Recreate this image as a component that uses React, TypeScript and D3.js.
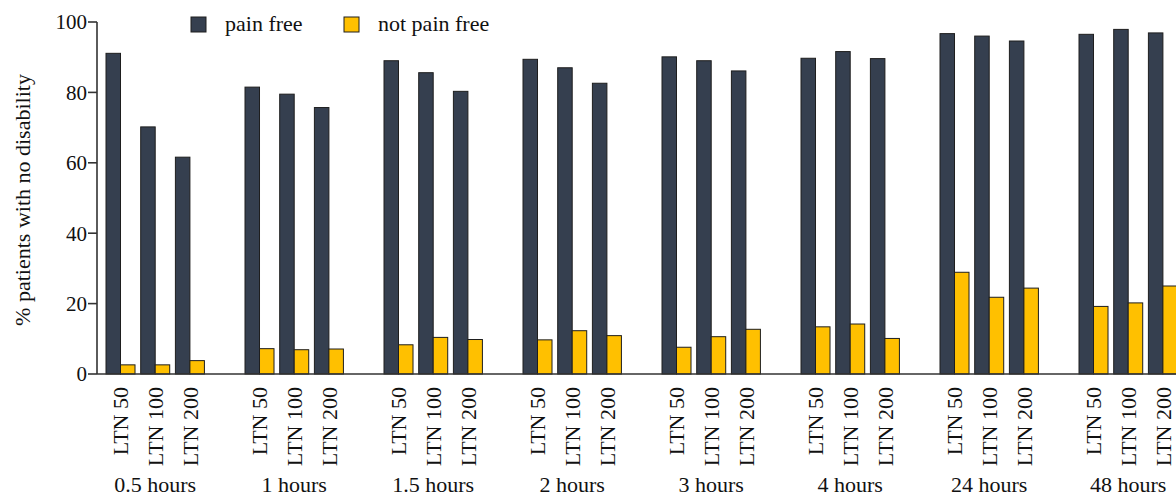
import React from "react";
import * as d3 from "d3";

const timepoints = ["0.5 hours", "1 hours", "1.5 hours", "2 hours", "3 hours", "4 hours", "24 hours", "48 hours"];
const doses = ["LTN 50", "LTN 100", "LTN 200"];
const seriesNames = ["pain free", "not pain free"];
const seriesColors = ["#353f4f", "#ffc000"];
const painFree = [
  [91.1, 70.2, 61.6],
  [81.5, 79.5, 75.7],
  [89.0, 85.6, 80.3],
  [89.4, 87.0, 82.6],
  [90.1, 89.0, 86.1],
  [89.7, 91.6, 89.6],
  [96.7, 96.0, 94.6],
  [96.5, 97.9, 96.9],
];
const notPainFree = [
  [2.6, 2.6, 3.8],
  [7.2, 6.9, 7.1],
  [8.3, 10.4, 9.8],
  [9.7, 12.3, 10.9],
  [7.6, 10.6, 12.7],
  [13.4, 14.2, 10.1],
  [28.9, 21.8, 24.4],
  [19.2, 20.2, 25.0],
];
const yTicks = [0, 20, 40, 60, 80, 100];

const W = 1176;
const H = 497;
const FONT = "Liberation Serif, Tinos, Times New Roman, DejaVu Serif, serif";

export default function App() {
  const axisX = 97;
  const groupPad = 0.292;
  const groupStep = 139;
  const x0 = d3
    .scaleBand<string>()
    .domain(timepoints)
    .range([106, 106 + groupStep * (timepoints.length - groupPad)])
    .paddingInner(groupPad)
    .paddingOuter(0);
  const x1 = d3.scaleBand<string>().domain(doses).range([0, x0.bandwidth()]).paddingInner(0.164);
  const x2 = d3.scaleBand<string>().domain(seriesNames).range([0, x1.bandwidth()]);
  const y = d3.scaleLinear().domain([0, 100]).range([374, 22]);

  const series = [painFree, notPainFree];
  const txt = { fontFamily: FONT };

  return (
    <svg
      width={W}
      height={H}
      style={{ position: "absolute", left: 0, top: 0, background: "#fff", fontFamily: FONT }}
    >
      {/* bars */}
      {timepoints.map((t, gi) =>
        doses.map((d, di) =>
          seriesNames.map((s, si) => {
            const v = series[si][gi][di];
            const bx = (x0(t) as number) + (x1(d) as number) + (x2(s) as number);
            return (
              <rect
                key={`${t}-${d}-${s}`}
                x={bx}
                y={y(v)}
                width={x2.bandwidth()}
                height={y(0) - y(v)}
                fill={seriesColors[si]}
                stroke="#1e1e1e"
                strokeWidth={1}
              />
            );
          })
        )
      )}

      {/* axes */}
      <line x1={axisX} x2={axisX} y1={y(100)} y2={y(0)} stroke="#333" strokeWidth={1.6} />
      <line x1={axisX} x2={W} y1={y(0)} y2={y(0)} stroke="#333" strokeWidth={1.6} />
      {yTicks.map((v) => (
        <g key={v}>
          <line x1={axisX - 9} x2={axisX} y1={y(v)} y2={y(v)} stroke="#333" strokeWidth={1.6} />
          <text
            x={axisX - 10}
            y={y(v)}
            dy="0.35em"
            textAnchor="end"
            fontSize={21}
            fill="#111"
            style={txt}
          >
            {v}
          </text>
        </g>
      ))}

      {/* y title */}
      <text
        transform={`translate(30, ${(y(0) + y(100)) / 2 + 2}) rotate(-90)`}
        textAnchor="middle"
        fontSize={22}
        fill="#111"
        style={txt}
      >
        % patients with no disability
      </text>

      {/* x labels */}
      {timepoints.map((t) => (
        <g key={t}>
          {doses.map((d) => {
            const cx = (x0(t) as number) + (x1(d) as number) + x1.bandwidth() / 2;
            return (
              <text
                key={d}
                transform={`translate(${cx}, ${y(0) + 13}) rotate(-90)`}
                textAnchor="end"
                dy="0.35em"
                fontSize={22}
                fill="#111"
                style={txt}
              >
                {d}
              </text>
            );
          })}
          <text
            x={(x0(t) as number) + x0.bandwidth() / 2}
            y={492}
            textAnchor="middle"
            fontSize={22}
            fill="#111"
            style={txt}
          >
            {t}
          </text>
        </g>
      ))}

      {/* legend */}
      {seriesNames.map((s, i) => {
        const lx = [191, 344][i];
        return (
          <g key={s}>
            <rect x={lx} y={17} width={15} height={15} fill={seriesColors[i]} stroke="#1e1e1e" strokeWidth={1} />
            <text x={lx + 34} y={30.5} fontSize={22} fill="#111" style={txt}>
              {s}
            </text>
          </g>
        );
      })}
    </svg>
  );
}
